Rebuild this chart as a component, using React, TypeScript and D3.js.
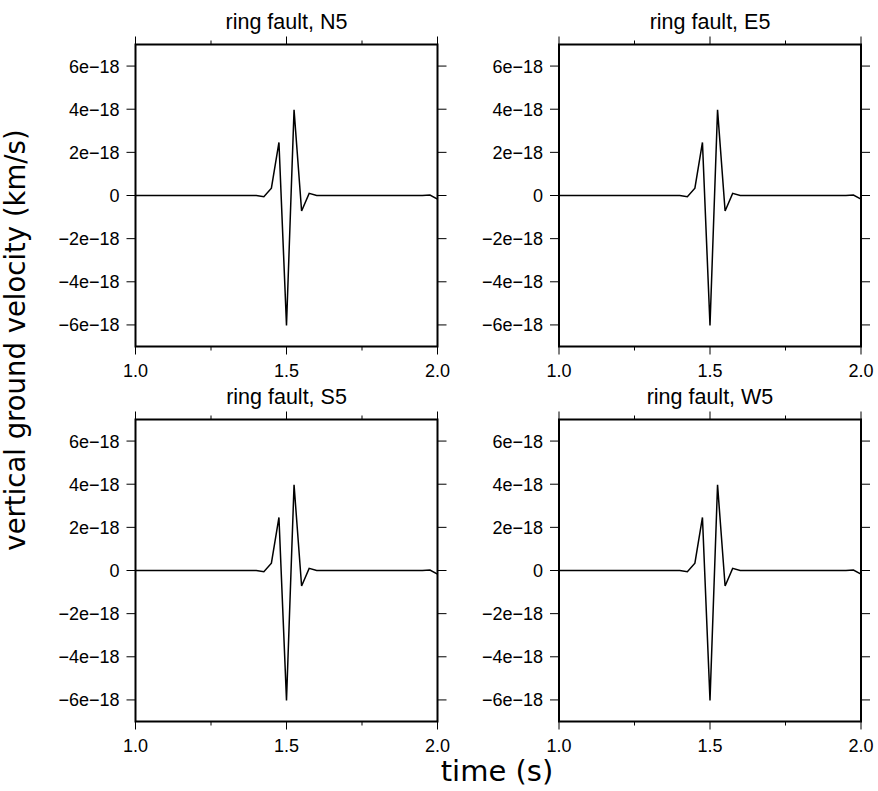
import React from "react";
import * as d3 from "d3";

const times = [
  1.0, 1.025, 1.05, 1.075, 1.1, 1.125, 1.15, 1.175, 1.2, 1.225, 1.25, 1.275, 1.3, 1.325, 1.35, 1.375, 1.4,
  1.425, 1.45, 1.475, 1.5, 1.525, 1.55, 1.575, 1.6,
  1.625, 1.65, 1.675, 1.7, 1.725, 1.75, 1.775, 1.8, 1.825, 1.85, 1.875, 1.9, 1.925, 1.95,
  1.975, 2.0,
];
// vertical ground velocity in units of 1e-18 km/s
const waveform = [
  0, 0, 0, 0, 0, 0, 0, 0, 0, 0, 0, 0, 0, 0, 0, 0, 0,
  -0.06, 0.34, 2.46, -6.02, 3.97, -0.72, 0.1, 0,
  0, 0, 0, 0, 0, 0, 0, 0, 0, 0, 0, 0, 0, 0,
  0.02, -0.17,
];
const stations = ["N5", "E5", "S5", "W5"];
const panelTitles = stations.map((s) => `ring fault, ${s}`);
const yTicks = [-6, -4, -2, 0, 2, 4, 6];
const yTickLabels = ["\u22126e\u221218", "\u22124e\u221218", "\u22122e\u221218", "0", "2e\u221218", "4e\u221218", "6e\u221218"];
const xMajorTicks = [1.0, 1.5, 2.0];
const xMajorLabels = ["1.0", "1.5", "2.0"];
const xMinorTicks = [1.25, 1.75];
const xDomain = [1.0, 2.0];
const yDomain = [-7, 7];

const W = 878;
const H = 791;
const PW = 302;
const PH = 302;
const origins = [
  [135.5, 44.5],
  [559, 44.5],
  [135.5, 419.5],
  [559, 419.5],
];

const tickFont = "'Liberation Sans', Arial, Helvetica, sans-serif";
const labelFont = "'DejaVu Sans', Verdana, sans-serif";

function Panel({ x0, y0, title }: { x0: number; y0: number; title: string }) {
  const x = d3.scaleLinear().domain(xDomain).range([0, PW]);
  const y = d3.scaleLinear().domain(yDomain).range([PH, 0]);
  const line = d3
    .line<number>()
    .x((_, i) => x(times[i]))
    .y((d) => y(d));
  const pathD = line(waveform) || "";
  return (
    <g transform={`translate(${x0},${y0})`}>
      <text x={PW / 2} y={-16} textAnchor="middle" fontFamily={tickFont} fontSize={21.5} fill="#000">
        {title}
      </text>
      <path d={pathD} fill="none" stroke="#000" strokeWidth={1.5} strokeLinejoin="miter" />
      <rect x={0} y={0} width={PW} height={PH} fill="none" stroke="#000" strokeWidth={2} />
      {yTicks.map((t, i) => (
        <g key={"y" + t}>
          <line x1={-9} x2={0} y1={y(t)} y2={y(t)} stroke="#000" strokeWidth={1} />
          <line x1={PW} x2={PW + 9} y1={y(t)} y2={y(t)} stroke="#000" strokeWidth={1} />
          <text x={-16} y={y(t)} dy="0.36em" textAnchor="end" fontFamily={tickFont} fontSize={18} fill="#000">
            {yTickLabels[i]}
          </text>
        </g>
      ))}
      {xMajorTicks.map((t, i) => (
        <g key={"x" + t}>
          <line x1={x(t)} x2={x(t)} y1={-8} y2={0} stroke="#000" strokeWidth={1} />
          <line x1={x(t)} x2={x(t)} y1={PH} y2={PH + 8} stroke="#000" strokeWidth={1} />
          <text x={x(t)} y={PH + 30} textAnchor="middle" fontFamily={tickFont} fontSize={18} fill="#000">
            {xMajorLabels[i]}
          </text>
        </g>
      ))}
      {xMinorTicks.map((t) => (
        <g key={"m" + t}>
          <line x1={x(t)} x2={x(t)} y1={-4} y2={0} stroke="#000" strokeWidth={1} />
          <line x1={x(t)} x2={x(t)} y1={PH} y2={PH + 4} stroke="#000" strokeWidth={1} />
        </g>
      ))}
    </g>
  );
}

export default function App() {
  return (
    <svg width={W} height={H} style={{ display: "block", position: "absolute", left: 0, top: 0 }}>
      <rect x={0} y={0} width={W} height={H} fill="#fff" />
      {origins.map(([x0, y0], i) => (
        <Panel key={i} x0={x0} y0={y0} title={panelTitles[i]} />
      ))}
      <text
        transform="translate(25,340) rotate(-90)"
        textAnchor="middle"
        fontFamily={labelFont}
        fontSize={27.5}
        fill="#000"
      >
        vertical ground velocity (km/s)
      </text>
      <text x={497} y={781} textAnchor="middle" fontFamily={labelFont} fontSize={29} fill="#000">
        time (s)
      </text>
    </svg>
  );
}
